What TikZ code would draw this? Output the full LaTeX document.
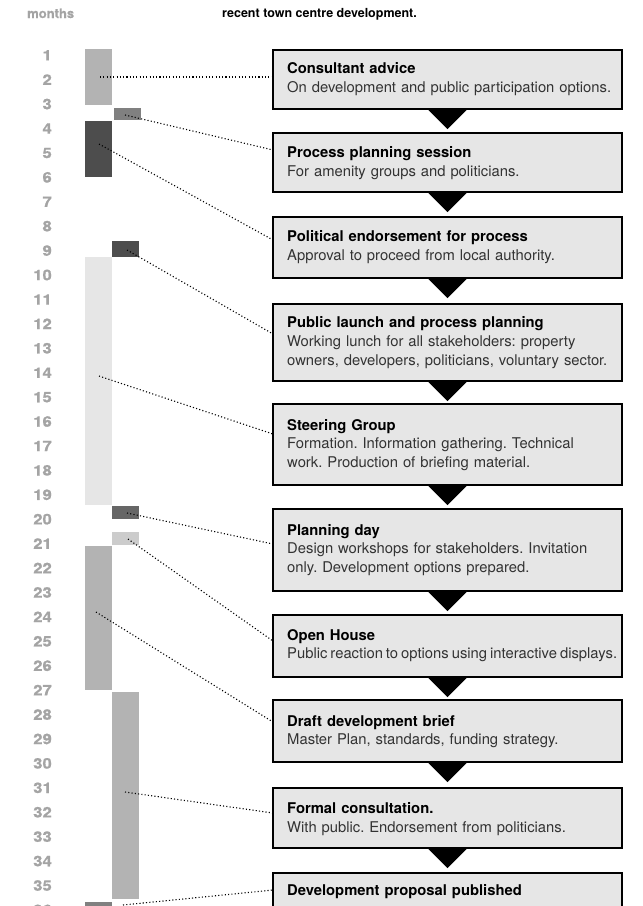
\documentclass[tikz,border=0pt]{standalone}
\usepackage{fontspec}
\setmainfont{TeX Gyre Heros}
\newfontfamily\numfont[FakeStretch=1.15,FakeBold=0.8]{TeX Gyre Heros}
\newfontfamily\headfont[FakeBold=0.6]{TeX Gyre Heros}
\frenchspacing

\definecolor{boxgray}{HTML}{E6E6E6}
\definecolor{bodygray}{HTML}{333333}
\definecolor{numgray}{HTML}{A4A4A4}
\definecolor{barlight}{HTML}{E6E6E6}
\definecolor{barpale}{HTML}{CCCCCC}
\definecolor{barmid}{HTML}{B3B3B3}
\definecolor{bargrey}{HTML}{808080}
\definecolor{bardim}{HTML}{666666}
\definecolor{bardark}{HTML}{4D4D4D}

\begin{document}
\begin{tikzpicture}[x=1pt,y=-1pt,
  stepbox/.style={rectangle, draw=black, line width=2pt, fill=boxgray,
    minimum width=349pt, inner sep=0pt, outer sep=0pt, anchor=north west},
  steptext/.style={anchor=base west, text width=345pt, align=left, inner sep=0pt,
    font=\fontsize{14.8}{18.8}\selectfont, text=bodygray},
  bar/.style={rectangle, draw=none, inner sep=0pt, outer sep=0pt,
    minimum width=27pt, anchor=north west},
  monthnum/.style={anchor=base east, inner sep=0pt, text=numgray,
    font=\numfont\bfseries\fontsize{14.5}{14.5}\selectfont},
  link/.style={black, line width=1.1pt, dash pattern=on 1.1pt off 2.2pt},
  flowtip/.style={fill=black}
]
\useasboundingbox (0,0) rectangle (643,906);
\clip (0,0) rectangle (643,906);

% headings
\node[anchor=base west, inner sep=0pt, text=numgray,
  font=\headfont\bfseries\fontsize{13}{13}\selectfont] (hmonths) at (27,18) {months};
\node[anchor=base west, inner sep=0pt,
  font=\bfseries\fontsize{12.5}{12.5}\selectfont] (htitle) at (222,17)
  {recent town centre development.};

% month scale
\foreach \k in {1,...,36} {
  \node[monthnum] (n\k) at (52,{60.4+(\k-1)*24.42}) {\k};
}

% duration bars
\node[bar, fill=barmid,   minimum height=56pt]  (m1)  at (85,49)  {};
\node[bar, fill=bargrey,  minimum height=12pt]  (m2)  at (114,108) {};
\node[bar, fill=bardark,  minimum height=56pt]  (m3)  at (85,121) {};
\node[bar, fill=bardark,  minimum height=16pt]  (m4)  at (112,241) {};
\node[bar, fill=barlight, minimum height=248pt] (m5)  at (85,257) {};
\node[bar, fill=bardim,   minimum height=13pt]  (m6)  at (112,506) {};
\node[bar, fill=barpale,  minimum height=13pt]  (m7)  at (112,532) {};
\node[bar, fill=barmid,   minimum height=144pt] (m8)  at (85,546) {};
\node[bar, fill=barmid,   minimum height=207pt] (m9)  at (112,692) {};
\node[bar, fill=bargrey,  minimum height=12pt]  (m10) at (85,902) {};

% step boxes
\node[stepbox, minimum height=59pt] (b1)  at (273,50)  {};
\node[stepbox, minimum height=59pt] (b2)  at (273,133) {};
\node[stepbox, minimum height=61pt] (b3)  at (273,217) {};
\node[stepbox, minimum height=77pt] (b4)  at (273,304) {};
\node[stepbox, minimum height=81pt] (b5)  at (273,404) {};
\node[stepbox, minimum height=82pt] (b6)  at (273,509) {};
\node[stepbox, minimum height=62pt] (b7)  at (273,615) {};
\node[stepbox, minimum height=62pt] (b8)  at (273,700) {};
\node[stepbox, minimum height=60pt] (b9)  at (273,788) {};
\node[stepbox, minimum height=40pt] (b10) at (273,873) {};

% step texts
\node[steptext] (t1) at ([xshift=14pt,yshift=-23.5pt]b1.north west)
  {\textcolor{black}{\bfseries Consultant advice}\\On development and public participation options.};
\node[steptext] (t2) at ([xshift=14pt,yshift=-24.3pt]b2.north west)
  {\textcolor{black}{\bfseries Process planning session}\\For amenity groups and politicians.};
\node[steptext] (t3) at ([xshift=14pt,yshift=-24.7pt]b3.north west)
  {\textcolor{black}{\bfseries Political endorsement for process}\\Approval to proceed from local authority.};
\node[steptext] (t4) at ([xshift=14pt,yshift=-23.7pt]b4.north west)
  {\textcolor{black}{\bfseries Public launch and process planning}\\Working lunch for all stakeholders: property\\owners, developers, politicians, voluntary sector.};
\node[steptext] (t5) at ([xshift=14pt,yshift=-26pt]b5.north west)
  {\textcolor{black}{\bfseries Steering Group}\\Formation. Information gathering. Technical\\work. Production of briefing material.};
\node[steptext] (t6) at ([xshift=14pt,yshift=-26pt]b6.north west)
  {\textcolor{black}{\bfseries Planning day}\\Design workshops for stakeholders. Invitation\\only. Development options prepared.};
\node[steptext] (t7) at ([xshift=14pt,yshift=-25pt]b7.north west)
  {\textcolor{black}{\bfseries Open House}\\{\spaceskip=3pt Public reaction to options using interactive displays.}};
\node[steptext] (t8) at ([xshift=14pt,yshift=-26pt]b8.north west)
  {\textcolor{black}{\bfseries Draft development brief}\\Master Plan, standards, funding strategy.};
\node[steptext] (t9) at ([xshift=14pt,yshift=-25.3pt]b9.north west)
  {\textcolor{black}{\bfseries Formal consultation.}\\With public. Endorsement from politicians.};
\node[steptext] (t10) at ([xshift=14pt,yshift=-22pt]b10.north west)
  {\textcolor{black}{\bfseries Development proposal published}};

% flow arrows between steps
\foreach \i in {1,...,9} {
  \fill[flowtip] (b\i.south) ++(-20,0) -- ++(40,0) -- ++(-20,20) -- cycle;
}

% dotted links from bars to steps
\coordinate (s1)  at (100,77);
\coordinate (s2)  at (125,115);
\coordinate (s3)  at (99,144);
\coordinate (s4)  at (127,250);
\coordinate (s5)  at (99,376);
\coordinate (s6)  at (127,513);
\coordinate (s7)  at (128,539);
\coordinate (s8)  at (96,612);
\coordinate (s9)  at (125,792);
\coordinate (s10) at (123,905);
\draw[link] (s1)  -- ([yshift=-27pt]b1.north west);
\draw[link] (s2)  -- ([yshift=-17pt]b2.north west);
\draw[link] (s3)  -- ([yshift=-23pt]b3.north west);
\draw[link] (s4)  -- ([yshift=-30pt]b4.north west);
\draw[link] (s5)  -- ([yshift=-30pt]b5.north west);
\draw[link] (s6)  -- ([yshift=-35pt]b6.north west);
\draw[link] (s7)  -- ([yshift=-26pt]b7.north west);
\draw[link] (s8)  -- ([yshift=-22pt]b8.north west);
\draw[link] (s9)  -- ([yshift=-25pt]b9.north west);
\draw[link] (s10) -- ([yshift=-17pt]b10.north west);
\end{tikzpicture}
\end{document}
